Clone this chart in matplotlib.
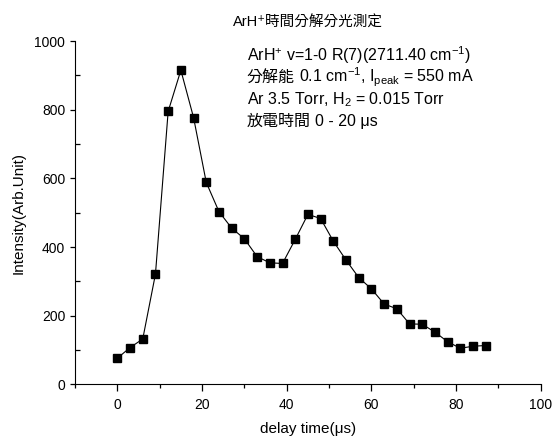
import matplotlib
matplotlib.use("Agg")
import matplotlib.pyplot as plt
import matplotlib.transforms as mtransforms
from matplotlib.ticker import MultipleLocator

plt.rcParams["font.family"] = ["Liberation Sans", "Noto Sans CJK TC", "DejaVu Sans"]
plt.rcParams["mathtext.fontset"] = "custom"
plt.rcParams["mathtext.rm"] = "Liberation Sans"
plt.rcParams["mathtext.default"] = "regular"

# delay time (us) and intensity
delay = [0, 3, 6, 9, 12, 15, 18, 21, 24, 27, 30, 33, 36, 39, 42,
         45, 48, 51, 54, 57, 60, 63, 66, 69, 72, 75, 78, 81, 84, 87]
intensity = [76, 107, 132, 321, 795, 915, 777, 588, 503, 455, 424, 372, 354, 352, 422,
             495, 483, 417, 362, 311, 278, 234, 220, 176, 175, 152, 124, 105, 111, 113]

title = "ArH⁺時間分解分光測定"
xlabel = "delay time(μs)"
ylabel = "Intensity(Arb.Unit)"

# info block: (CJK prefix, latin/math part)
info_cjk = ["", "分解能", "", "放電時間"]
info_rest = ["ArH$^{+}$ v=1-0 R(7)(2711.40 cm$^{-1}$)",
             "0.1 cm$^{-1}$, I$_{peak}$ = 550 mA",
             "Ar 3.5 Torr, H$_{2}$ = 0.015 Torr",
             "0 - 20 μs"]

fig = plt.figure(figsize=(5.53, 4.46), dpi=100)
ax = fig.add_axes([0.1356, 0.1383, 0.8424, 0.7697])

ax.plot(delay, intensity, "-", color="black", lw=0.8,
        marker="s", markersize=5.5, markerfacecolor="black", markeredgecolor="black")

ax.set_xlim(-10, 100)
ax.set_ylim(0, 1000)
ax.xaxis.set_major_locator(MultipleLocator(20))
ax.xaxis.set_minor_locator(MultipleLocator(10))
ax.yaxis.set_major_locator(MultipleLocator(200))
ax.yaxis.set_minor_locator(MultipleLocator(100))
ax.tick_params(axis="x", which="major", direction="out", length=5, width=0.9, labelsize=10, pad=5)
ax.tick_params(axis="x", which="minor", direction="out", length=3, width=0.9)
ax.tick_params(axis="y", which="major", direction="out", length=3.6, width=0.9, labelsize=10)
ax.tick_params(axis="y", which="minor", direction="in", length=3.6, width=0.9)
ax.spines["top"].set_visible(False)
ax.spines["right"].set_visible(False)

ax.set_xlabel(xlabel, fontsize=11, labelpad=7)
ax.set_ylabel(ylabel, fontsize=11, labelpad=6)
ax.set_title(title, fontsize=10.5, pad=10)

renderer = fig.canvas.get_renderer()
x0 = 0.369
y_top, line_step = 0.943, 0.0635
for i, (cjk, rest) in enumerate(zip(info_cjk, info_rest)):
    y = y_top - i * line_step
    shift = 0
    if cjk:
        t = ax.text(x0, y, cjk, transform=ax.transAxes, va="baseline", fontsize=11.5)
        shift = t.get_window_extent(renderer).width + 4
    trans = mtransforms.offset_copy(ax.transAxes, fig=fig, x=shift, y=0, units="dots")
    ax.text(x0, y, rest, transform=trans, va="baseline", fontsize=11.5)

fig.savefig("out.png", dpi=100)
